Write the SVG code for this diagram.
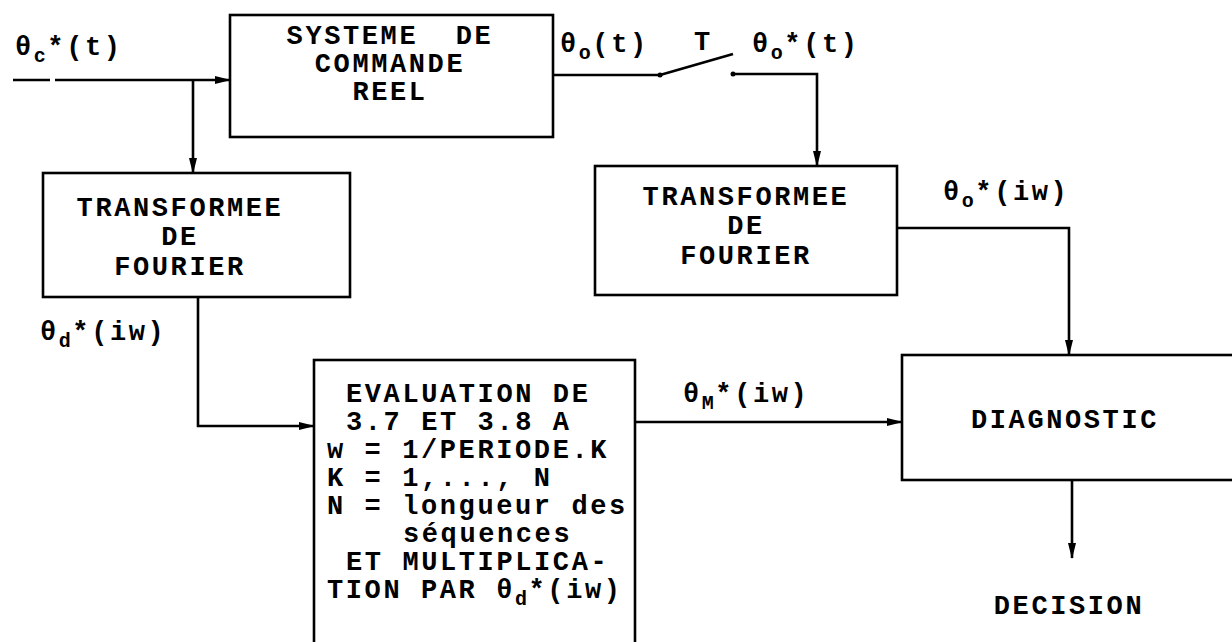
<svg xmlns="http://www.w3.org/2000/svg" width="1232" height="642" viewBox="0 0 1232 642">
  <style>
    .box { fill: #ffffff; stroke: #000000; stroke-width: 2.6; }
    .wire { fill: none; stroke: #000000; stroke-width: 2.6; }
    .arrow { fill: none; stroke: #000000; stroke-width: 2.6; marker-end: url(#head); }
    text { font-family: "Liberation Mono", "DejaVu Sans Mono", monospace; font-weight: bold; font-size: 27px; letter-spacing: 2.6px; fill: #000000; }
    .mid { text-anchor: middle; }
    .sub { font-size: 20px; letter-spacing: 1.5px; }
  </style>
  <defs>
    <marker id="head" viewBox="0 0 16 10" refX="15" refY="5" markerWidth="16" markerHeight="10" markerUnits="userSpaceOnUse" orient="auto">
      <path d="M0,1 L16,5 L0,9 Z" fill="#000000"/>
    </marker>
  </defs>

  <rect width="1232" height="642" fill="#ffffff"/>

  <!-- connectors -->
  <g id="connectors">
    <!-- input signal, split into a short dash and the main run -->
    <path class="wire" d="M13,80 H50"/>
    <path class="arrow" d="M55,80 H230"/>
    <!-- branch down to the left Fourier transform -->
    <path class="arrow" d="M193,80 V173"/>
    <!-- output of the real control system to the sampler switch -->
    <path class="wire" d="M553,75 H660"/>
    <!-- open switch blade -->
    <path class="wire" d="M660,75 L733,54"/>
    <circle cx="660" cy="75" r="2.5" fill="#000000"/>
    <circle cx="733" cy="74" r="2.5" fill="#000000"/>
    <!-- sampled output down to the right Fourier transform -->
    <path class="arrow" d="M733,74 H817 V166"/>
    <!-- right transform output to diagnostic -->
    <path class="arrow" d="M897,228 H1069 V355"/>
    <!-- left transform output to evaluation -->
    <path class="arrow" d="M198,297 V426 H314"/>
    <!-- evaluation to diagnostic -->
    <path class="arrow" d="M635,422 H902"/>
    <!-- diagnostic to decision -->
    <path class="arrow" d="M1072,480 V558"/>
  </g>

  <!-- signal labels -->
  <g id="labels">
    <text x="15" y="55">θ<tspan class="sub" dy="7">c</tspan><tspan dy="-7">*(t)</tspan></text>
    <text x="560" y="52">θ<tspan class="sub" dy="7">o</tspan><tspan dy="-7">(t)</tspan></text>
    <text x="694" y="50">T</text>
    <text x="752" y="52">θ<tspan class="sub" dy="7">o</tspan><tspan dy="-7">*(t)</tspan></text>
    <text x="943" y="200">θ<tspan class="sub" dy="7">o</tspan><tspan dy="-7">*(iw)</tspan></text>
    <text x="40" y="340">θ<tspan class="sub" dy="7">d</tspan><tspan dy="-7">*(iw)</tspan></text>
    <text x="683" y="402">θ<tspan class="sub" dy="7">M</tspan><tspan dy="-7">*(iw)</tspan></text>
    <text class="mid" x="1069" y="614">DECISION</text>
  </g>

  <g id="systeme">
    <rect class="box" x="230" y="15" width="323" height="122"/>
    <text class="mid" x="390" y="44" xml:space="preserve">SYSTEME  DE</text>
    <text class="mid" x="390" y="72">COMMANDE</text>
    <text class="mid" x="390" y="100">REEL</text>
  </g>

  <g id="fourier-left">
    <rect class="box" x="43" y="173" width="307" height="124"/>
    <text class="mid" x="180" y="216">TRANSFORMEE</text>
    <text class="mid" x="180" y="245">DE</text>
    <text class="mid" x="180" y="275">FOURIER</text>
  </g>

  <g id="fourier-right">
    <rect class="box" x="595" y="166" width="302" height="129"/>
    <text class="mid" x="746" y="205">TRANSFORMEE</text>
    <text class="mid" x="746" y="234">DE</text>
    <text class="mid" x="746" y="264">FOURIER</text>
  </g>

  <g id="evaluation">
    <rect class="box" x="314" y="360" width="321" height="290"/>
    <text x="346" y="402">EVALUATION DE</text>
    <text x="346" y="430">3.7 ET 3.8 A</text>
    <text x="327" y="458">w = 1/PERIODE.K</text>
    <text x="327" y="486">K = 1,..., N</text>
    <text x="327" y="514">N = longueur des</text>
    <text x="403" y="542">séquences</text>
    <text x="346" y="570">ET MULTIPLICA-</text>
    <text x="327" y="598">TION PAR θ<tspan class="sub" dy="7">d</tspan><tspan dy="-7">*(iw)</tspan></text>
  </g>

  <g id="diagnostic">
    <rect class="box" x="902" y="355" width="345" height="125"/>
    <text class="mid" x="1065" y="428">DIAGNOSTIC</text>
  </g>
</svg>
